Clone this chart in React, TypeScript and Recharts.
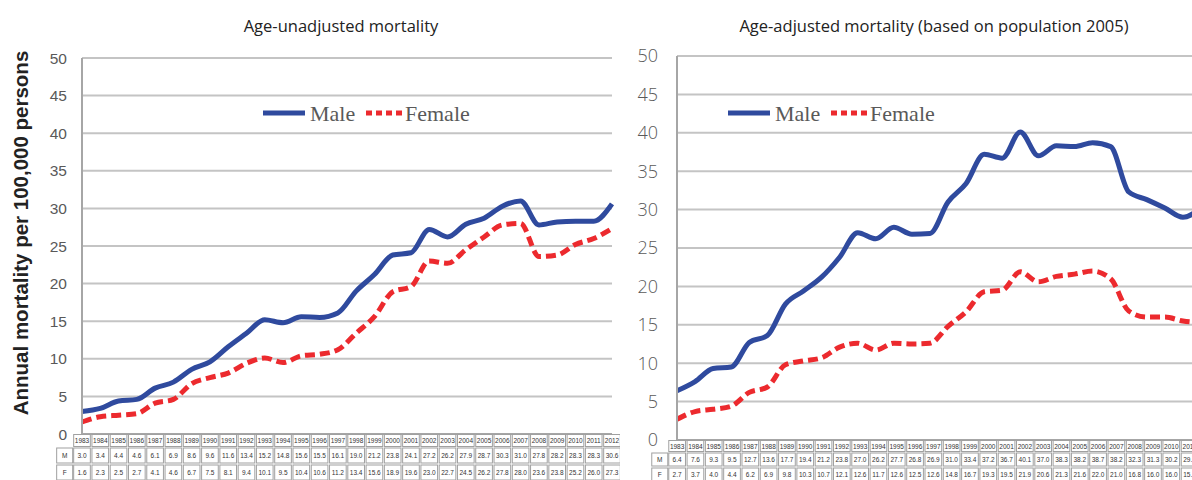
import React from 'react';
import { LineChart, Line, XAxis, YAxis, CartesianGrid } from 'recharts';

const years = ['1983','1984','1985','1986','1987','1988','1989','1990','1991','1992','1993','1994','1995','1996','1997','1998','1999','2000','2001','2002','2003','2004','2005','2006','2007','2008','2009','2010','2011','2012'];
const unadjMale = [3.0,3.4,4.4,4.6,6.1,6.9,8.6,9.6,11.6,13.4,15.2,14.8,15.6,15.5,16.1,19.0,21.2,23.8,24.1,27.2,26.2,27.9,28.7,30.3,31.0,27.8,28.2,28.3,28.3,30.6];
const unadjFemale = [1.6,2.3,2.5,2.7,4.1,4.6,6.7,7.5,8.1,9.4,10.1,9.5,10.4,10.6,11.2,13.4,15.6,18.9,19.6,23.0,22.7,24.5,26.2,27.8,28.0,23.6,23.8,25.2,26.0,27.3];
const adjMale = [6.4,7.6,9.3,9.5,12.7,13.6,17.7,19.4,21.2,23.8,27.0,26.2,27.7,26.8,26.9,31.0,33.4,37.2,36.7,40.1,37.0,38.3,38.2,38.7,38.2,32.3,31.3,30.2,29.0,30.2];
const adjFemale = [2.7,3.7,4.0,4.4,6.2,6.9,9.8,10.3,10.7,12.1,12.6,11.7,12.6,12.5,12.6,14.8,16.7,19.3,19.5,21.9,20.6,21.3,21.6,22.0,21.0,16.8,16.0,16.0,15.5,15.3];
const yTicks = [0,5,10,15,20,25,30,35,40,45,50];

const leftTitle = 'Age-unadjusted mortality';
const rightTitle = 'Age-adjusted mortality (based on population 2005)';
const yLabel = 'Annual mortality per 100,000 persons';

const BLUE = '#2F4A9E';
const RED = '#EC2A2E';
const GRID = '#C4C4C4';

const leftData = years.map((y, i) => ({ year: y, male: unadjMale[i], female: unadjFemale[i] }));
const rightData = years.map((y, i) => ({ year: y, male: adjMale[i], female: adjFemale[i] }));

function makeTick(male: number[], female: number[], band: number, cellW: number, hdrH: number, rowH: number) {
  return (props: any) => {
    const { x, y, payload, index } = props;
    const left = x - band / 2 + index * (cellW - band);
    const cx = left + cellW / 2;
    const mTop = y + hdrH + 2;
    const fTop = mTop + rowH + 2;
    const cellStroke = '#A0A0A0';
    const ff = 'Liberation Sans, Arial, sans-serif';
    return (
      <g>
        <rect x={left + 0.5} y={y + 0.5} width={cellW - 1} height={hdrH} fill="#fff" stroke={cellStroke} strokeWidth={1} />
        <text x={cx} y={y + hdrH / 2 + 3} textAnchor="middle" fontSize={6.5} fontFamily={ff} fill="#333">{payload.value}</text>
        <rect x={left + 0.5} y={mTop} width={cellW - 1} height={rowH} fill="#fff" stroke={cellStroke} strokeWidth={1} />
        <text x={cx} y={mTop + rowH / 2 + 2.5} textAnchor="middle" fontSize={6.5} fontFamily={ff} fill="#333">{male[index].toFixed(1)}</text>
        <rect x={left + 0.5} y={fTop} width={cellW - 1} height={rowH} fill="#fff" stroke={cellStroke} strokeWidth={1} />
        <text x={cx} y={fTop + rowH / 2 + 2.5} textAnchor="middle" fontSize={6.5} fontFamily={ff} fill="#333">{female[index].toFixed(1)}</text>
        {index === 0 && (
          <g>
            <rect x={left - 16.5} y={mTop} width={16} height={rowH} fill="#fff" stroke={cellStroke} strokeWidth={1} />
            <text x={left - 8.5} y={mTop + rowH / 2 + 2.5} textAnchor="middle" fontSize={6.5} fontFamily={ff} fill="#333">M</text>
            <rect x={left - 16.5} y={fTop} width={16} height={rowH} fill="#fff" stroke={cellStroke} strokeWidth={1} />
            <text x={left - 8.5} y={fTop + rowH / 2 + 2.5} textAnchor="middle" fontSize={6.5} fontFamily={ff} fill="#333">F</text>
          </g>
        )}
      </g>
    );
  };
}

const leftTick = makeTick(unadjMale, unadjFemale, 530 / 30, 530 / 30, 12, 15);
const rightTick = makeTick(adjMale, adjFemale, 524 / 30, 17.7, 11, 13);

function Legend2({ x0, y }: { x0: number; y: number }) {
  return (
    <g>
      <line x1={x0} x2={x0 + 42} y1={y} y2={y} stroke={BLUE} strokeWidth={5} />
      <text x={x0 + 47} y={y + 8} fontSize={22} fontFamily="Liberation Serif, Times New Roman, serif" fill="#595959">Male</text>
      <line x1={x0 + 103} x2={x0 + 140} y1={y} y2={y} stroke={RED} strokeWidth={5} strokeDasharray="6 4" />
      <text x={x0 + 142} y={y + 8} fontSize={22} fontFamily="Liberation Serif, Times New Roman, serif" fill="#595959">Female</text>
    </g>
  );
}

export default function App() {
  return (
    <div style={{ position: 'fixed', left: 0, top: 0, width: 1192, height: 480, overflow: 'hidden', background: '#fff' }}>
      <div style={{ position: 'absolute', left: 0, top: 0 }}>
        <LineChart width={620} height={480} data={leftData} margin={{ top: 58, right: 8, bottom: 0, left: 40 }}>
          <CartesianGrid vertical={false} stroke={GRID} strokeWidth={2} />
          <XAxis dataKey="year" interval={0} height={46} tickLine={false} tickSize={0} tickMargin={0} axisLine={{ stroke: '#A6A6A6', strokeWidth: 2 }} tick={leftTick} />
          <YAxis domain={[0, 50]} ticks={yTicks} width={42} tickLine={false} tickSize={0} tickMargin={15} axisLine={{ stroke: '#A6A6A6', strokeWidth: 2 }} tick={{ fontSize: 15.5, fill: '#595959', fontFamily: 'Liberation Sans, Arial, sans-serif' }} />
          <Line type="monotone" dataKey="male" stroke={BLUE} strokeWidth={5} dot={false} isAnimationActive={false} />
          <Line type="monotone" dataKey="female" stroke={RED} strokeWidth={5} strokeDasharray="10 5" dot={false} isAnimationActive={false} />
        </LineChart>
      </div>
      <div style={{ position: 'absolute', left: 590, top: 0 }}>
        <LineChart width={620} height={480} data={rightData} margin={{ top: 56, right: 9, bottom: 0, left: 27 }}>
          <CartesianGrid vertical={false} stroke={GRID} strokeWidth={2} />
          <XAxis dataKey="year" interval={0} height={40} tickLine={false} tickSize={0} tickMargin={0} axisLine={{ stroke: '#A6A6A6', strokeWidth: 2 }} tick={rightTick} />
          <YAxis domain={[0, 50]} ticks={yTicks} width={60} tickLine={false} tickSize={0} tickMargin={19} axisLine={{ stroke: '#A6A6A6', strokeWidth: 2 }} tick={{ fontSize: 18, fill: '#595959', fontFamily: 'Open Sans, sans-serif', fontWeight: 300 }} />
          <Line type="monotone" dataKey="male" stroke={BLUE} strokeWidth={5} dot={false} isAnimationActive={false} />
          <Line type="monotone" dataKey="female" stroke={RED} strokeWidth={5} strokeDasharray="10 5" dot={false} isAnimationActive={false} />
        </LineChart>
      </div>
      <svg width={1192} height={480} style={{ position: 'absolute', left: 0, top: 0, pointerEvents: 'none' }}>
        <text x={341} y={32} textAnchor="middle" fontSize={16.5} fontFamily="Open Sans, sans-serif" fill="#222">{leftTitle}</text>
        <text x={934} y={32} textAnchor="middle" fontSize={16.5} fontFamily="Open Sans, sans-serif" fill="#222">{rightTitle}</text>
        <text transform="translate(28,233) rotate(-90)" textAnchor="middle" fontSize={20.5} fontWeight="bold" fontFamily="Liberation Sans, Arial, sans-serif" fill="#222">{yLabel}</text>
        <Legend2 x0={263} y={113} />
        <Legend2 x0={728} y={113} />
      </svg>
    </div>
  );
}
